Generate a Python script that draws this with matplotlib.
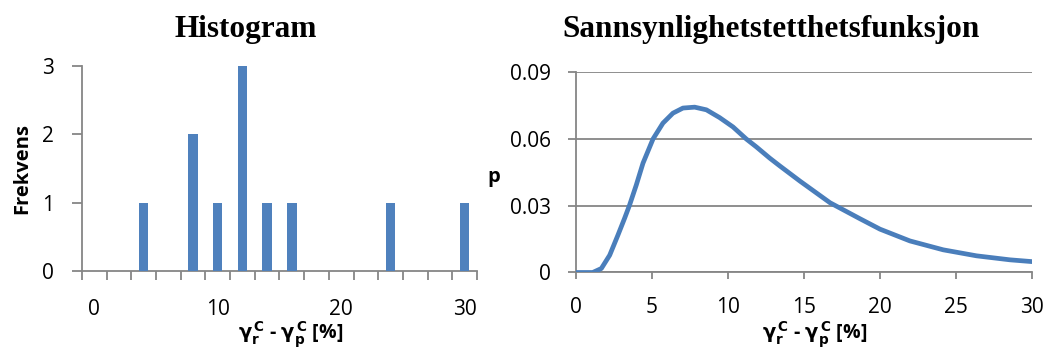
#!/usr/bin/python3

import matplotlib
matplotlib.use("Agg")
import matplotlib.pyplot as plt

# histogram: one category per 2 % step
hist_bins = [0, 2, 4, 6, 8, 10, 12, 14, 16, 18, 20, 22, 24, 26, 28, 30]
hist_counts = [0, 0, 1, 0, 2, 1, 3, 1, 1, 0, 0, 0, 1, 0, 0, 1]
hist_tick_labels = ["0", "10", "20", "30"]
hist_yticks = [0, 1, 2, 3]

# density curve
pdf_x = [0, 1.1, 1.67, 2.22, 2.76, 3.2, 3.53, 3.97, 4.41, 5.07, 5.72,
         6.38, 7.04, 7.81, 8.58, 9.45, 10.33, 11.2, 11.87, 12.74, 13.4,
         14.74, 16.71, 18.68, 20.0, 21.97, 24.16, 26.35, 28.55, 30.0]
pdf_y = [0, 0, 0.0018, 0.0078, 0.0168, 0.0244, 0.0304, 0.0394, 0.0492,
         0.0601, 0.0672, 0.0717, 0.0740, 0.0744, 0.0732, 0.0697, 0.0655,
         0.0601, 0.0565, 0.0515, 0.0480, 0.0411, 0.0314, 0.0242, 0.0195,
         0.0142, 0.0102, 0.0075, 0.0057, 0.0049]
pdf_xticks = [0, 5, 10, 15, 20, 25, 30]
pdf_yticks = [0, 0.03, 0.06, 0.09]
pdf_ytick_labels = ["0", "0.03", "0.06", "0.09"]

BLUE = "#4F81BD"
LINE_BLUE = "#4A7EBB"
GREY = "#868686"
XLABEL = r"$\mathbf{\gamma_r^{\,C}}$ - $\mathbf{\gamma_p^{\,C}}$ [%]"
TICK_SIZE = 15


def style_axes(ax):
    '''grey left/bottom axis, nothing else'''
    for side in ("top", "right"):
        ax.spines[side].set_visible(False)
    for side in ("left", "bottom"):
        ax.spines[side].set_color(GREY)
        ax.spines[side].set_linewidth(1.3)


def draw_histogram(fig):
    '''column chart with categories 0..30'''
    ax = fig.add_axes([0.0783, 0.2235, 0.3773, 0.5882])
    pos = list(range(len(hist_bins)))
    ax.bar(pos, hist_counts, width=0.38, color=BLUE, zorder=3)
    ax.set_xlim(-0.5, len(hist_bins) - 0.5)
    ax.set_ylim(0, 3)
    style_axes(ax)

    # labels on every fifth category, tick marks on the borders
    ax.set_xticks([pos[hist_bins.index(int(t))] for t in hist_tick_labels])
    ax.set_xticklabels(hist_tick_labels)
    ax.set_xticks([p - 0.5 for p in pos] + [pos[-1] + 0.5], minor=True)
    ax.tick_params(axis="x", which="major", length=0, pad=20,
                   labelsize=TICK_SIZE)
    ax.tick_params(axis="x", which="minor", length=6.5, width=1.3,
                   color=GREY, direction="out")
    ax.set_yticks(hist_yticks)
    ax.tick_params(axis="y", length=7, width=1.3, color=GREY, pad=13,
                   labelsize=TICK_SIZE)

    ax.set_ylabel("Frekvens", fontsize=14.5, fontweight="bold", va="center")
    ax.yaxis.set_label_coords(-0.152, 0.497)
    ax.set_xlabel(XLABEL, fontsize=14, fontweight="bold", va="center")
    ax.xaxis.set_label_coords(0.529, -0.312)
    fig.text(0.235, 0.895, "Histogram", ha="center", va="baseline",
             family="Liberation Serif", fontweight="bold", fontsize=22.5)


def draw_density(fig):
    '''line chart of the density with horizontal grid'''
    ax = fig.add_axes([0.5501, 0.2192, 0.4356, 0.5731])
    ax.plot(pdf_x, pdf_y, color=LINE_BLUE, linewidth=3.4,
            solid_capstyle="round", solid_joinstyle="round", zorder=3)
    ax.set_xlim(0, 30)
    ax.set_ylim(0, 0.09)
    style_axes(ax)
    ax.set_xticks(pdf_xticks)
    ax.set_yticks(pdf_yticks)
    ax.set_yticklabels(pdf_ytick_labels)
    ax.yaxis.grid(True, color=GREY, linewidth=1.3)
    ax.set_axisbelow(True)
    ax.tick_params(axis="x", length=5, width=1.3, color=GREY, pad=13,
                   labelsize=TICK_SIZE)
    ax.tick_params(axis="y", length=5.8, width=1.3, color=GREY, pad=12,
                   labelsize=TICK_SIZE)

    ax.set_ylabel("p", fontsize=14.5, fontweight="bold", rotation=0,
                  va="center", ha="center")
    ax.yaxis.set_label_coords(-0.18, 0.4775)
    ax.set_xlabel(XLABEL, fontsize=14, fontweight="bold", va="center")
    ax.xaxis.set_label_coords(0.524, -0.3125)
    fig.text(0.736, 0.895, "Sannsynlighetstetthetsfunksjon", ha="center",
             va="baseline", family="Liberation Serif", fontweight="bold",
             fontsize=22.5)


def main():
    """draw histogram and density side by side, save to out.png"""
    plt.rcParams["font.family"] = ["Open Sans", "DejaVu Sans"]
    plt.rcParams["mathtext.fontset"] = "dejavusans"
    fig = plt.figure(figsize=(10.47, 3.49), dpi=100)
    draw_histogram(fig)
    draw_density(fig)
    fig.savefig("out.png", dpi=100, facecolor="white")


if __name__ == "__main__":
    main()
